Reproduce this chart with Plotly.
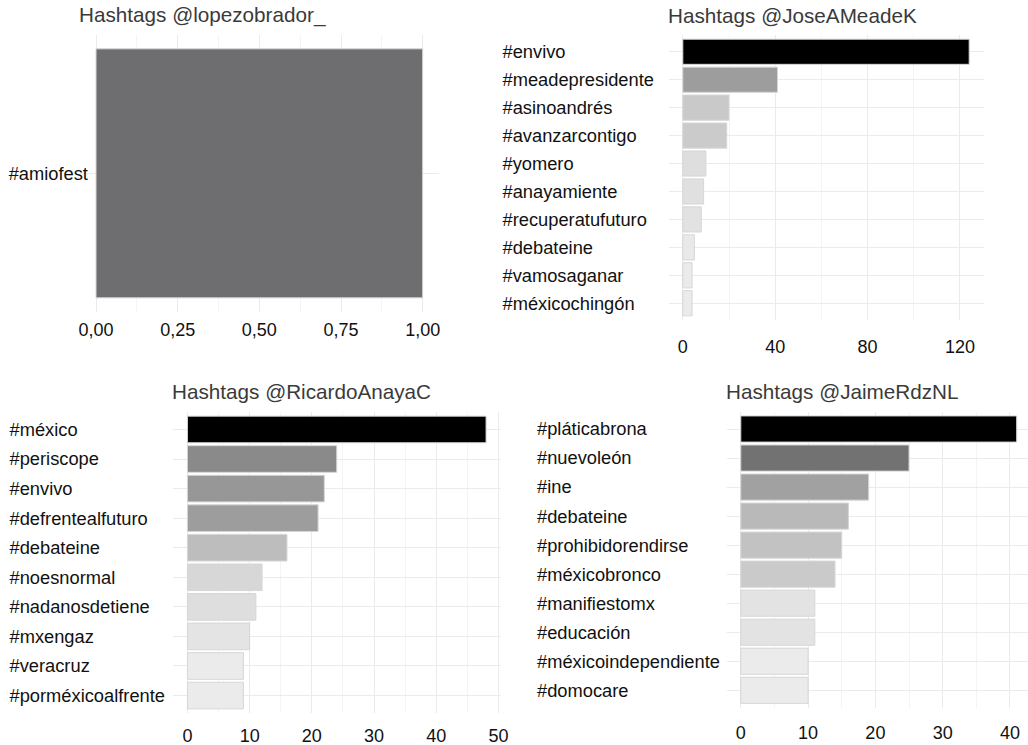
import plotly.graph_objects as go

W, H = 1028, 745

amlo_tags = ["#amiofest"]
amlo_counts = [1]

meade_tags = ["#envivo", "#meadepresidente", "#asinoandrés", "#avanzarcontigo", "#yomero",
              "#anayamiente", "#recuperatufuturo", "#debateine", "#vamosaganar", "#méxicochingón"]
meade_counts = [124, 41, 20, 19, 10, 9, 8, 5, 4, 4]

anaya_tags = ["#méxico", "#periscope", "#envivo", "#defrentealfuturo", "#debateine",
              "#noesnormal", "#nadanosdetiene", "#mxengaz", "#veracruz", "#porméxicoalfrente"]
anaya_counts = [48, 24, 22, 21, 16, 12, 11, 10, 9, 9]

jaime_tags = ["#pláticabrona", "#nuevoleón", "#ine", "#debateine", "#prohibidorendirse",
              "#méxicobronco", "#manifiestomx", "#educación", "#méxicoindependiente", "#domocare"]
jaime_counts = [41, 25, 19, 16, 15, 14, 11, 11, 10, 10]

titles = ["Hashtags @lopezobrador_", "Hashtags @JoseAMeadeK",
          "Hashtags @RicardoAnayaC", "Hashtags @JaimeRdzNL"]

FONT = "Liberation Sans, Arial, Helvetica, sans-serif"
grey_scale = [[0.0, "#ebebeb"], [0.25, "#ababab"], [0.5, "#6e6e6e"], [0.75, "#383838"], [1.0, "#000000"]]

def px_x(a, b):
    return [a / W, b / W]

def px_y(top, bottom):
    return [1 - bottom / H, 1 - top / H]

panels = [
    dict(tags=amlo_tags, vals=amlo_counts, xd=px_x(79.7, 439), yd=px_y(35, 311.7),
         xr=[-0.05, 1.05], dtick=0.25, fmt=".2f", yr=[0.5, -0.5], ty=15, single=True,
         ylab_off=-74, xlab_off=5),
    dict(tags=meade_tags, vals=meade_counts, xd=px_x(668.5, 983.5), yd=px_y(35, 320),
         xr=[-6.2, 130.2], dtick=40, fmt="d", yr=[9.6, -0.6], ty=16, single=False,
         ylab_off=-169, xlab_off=14),
    dict(tags=anaya_tags, vals=anaya_counts, xd=px_x(172.5, 501), yd=px_y(411.7, 713.3),
         xr=[-2.4, 50.4], dtick=10, fmt="d", yr=[9.6, -0.6], ty=391.7, single=False,
         ylab_off=-166, xlab_off=10),
    dict(tags=jaime_tags, vals=jaime_counts, xd=[727 / W, 1.0], yd=px_y(411.6, 707.7),
         xr=[-2.05, 42.68], dtick=10, fmt="d", yr=[9.6, -0.6], ty=391.7, single=False,
         ylab_off=-193, xlab_off=12),
]

fig = go.Figure()
layout = {}
annotations = []
for i, p in enumerate(panels):
    n = "" if i == 0 else str(i + 1)
    if p["single"]:
        marker = dict(color="#6e6e70", line=dict(color="#d6d6d6", width=1))
    else:
        marker = dict(color=p["vals"], colorscale=grey_scale, cmin=min(p["vals"]), cmax=max(p["vals"]),
                      line=dict(color="#d6d6d6", width=1))
    fig.add_trace(go.Bar(x=p["vals"], y=p["tags"], orientation="h", width=0.9,
                         marker=marker, xaxis="x" + n, yaxis="y" + n, showlegend=False))
    layout["xaxis" + n] = dict(
        domain=p["xd"], anchor="y" + n, range=p["xr"], dtick=p["dtick"], tick0=0,
        tickformat=p["fmt"], showgrid=True, gridcolor="#ebebeb", gridwidth=1,
        minor=dict(showgrid=True, gridcolor="#f4f4f4", gridwidth=1, dtick=p["dtick"] / 2, tick0=0),
        zeroline=False, showline=False, ticks="", automargin=False,
        ticklabelstandoff=p["xlab_off"],
        tickfont=dict(family=FONT, size=18, color="#111111"), fixedrange=True,
    )
    layout["yaxis" + n] = dict(
        domain=p["yd"], anchor="x" + n, type="category", range=p["yr"],
        showgrid=True, gridcolor="#ebebeb", gridwidth=1, zeroline=False, showline=False,
        ticks="", automargin=False, ticklabelposition="inside", ticklabeloverflow="allow",
        ticklabelstandoff=p["ylab_off"], layer="above traces",
        tickfont=dict(family=FONT, size=18.3, color="#111111"), fixedrange=True,
    )
    annotations.append(dict(text=titles[i], xref="paper", yref="paper", x=p["xd"][0] - 3 / W,
                            y=1 - p["ty"] / H, xanchor="left", yanchor="middle", showarrow=False,
                            font=dict(family=FONT, size=20.7, color="#3a3a3a")))

fig.update_layout(**layout)
fig.update_layout(width=W, height=H, margin=dict(l=0, r=0, t=0, b=0),
                  paper_bgcolor="white", plot_bgcolor="white", template="none",
                  separators=",.", annotations=annotations, bargap=0.1,
                  font=dict(family=FONT))
fig.write_html("out.html", post_script="document.body.style.margin='0';",
               config={"displayModeBar": False})
